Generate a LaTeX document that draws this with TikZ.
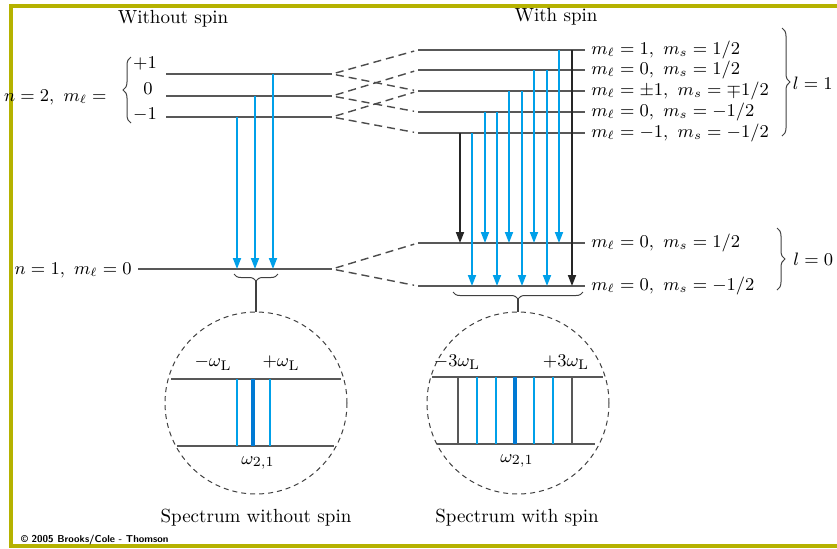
\documentclass[tikz,border=0pt]{standalone}
\usepackage{amsmath}
\usetikzlibrary{arrows.meta, positioning, decorations.pathreplacing}
\definecolor{framegold}{RGB}{181,178,0}
\definecolor{lineblue}{RGB}{0,160,233}
\definecolor{deepblue}{RGB}{0,122,212}
\definecolor{levelgray}{RGB}{88,88,88}
\tikzset{
  level/.style={draw=levelgray, line width=0.8pt},
  emit/.style={draw=lineblue, line width=0.9pt, -{Triangle[length=5.5pt,width=4pt]}},
  forbid/.style={emit, draw=black!85},
  split/.style={draw=black!70, line width=0.7pt, dash pattern=on 4pt off 2.5pt,
    shorten <=2pt, shorten >=2pt},
  lens/.style={circle, draw=black!75, line width=0.5pt, dash pattern=on 2.5pt off 2pt,
    minimum size=91pt, inner sep=0pt},
  bracket/.style={decorate, decoration={brace, amplitude=#1}, draw=black!75, line width=0.5pt},
  bracket/.default=3.5pt,
  stem/.style={draw=black!75, line width=0.6pt},
  specedge/.style={draw=levelgray, line width=0.8pt},
  specgray/.style={draw=levelgray, line width=0.6pt},
  specthin/.style={draw=lineblue, line width=0.6pt},
  specthick/.style={draw=deepblue, line width=1.7pt},
  spinlbl/.style={anchor=west, inner sep=1pt, font=\fontsize{9.2}{11}\selectfont},
  sidelbl/.style={inner sep=1pt, font=\fontsize{9}{11}\selectfont},
}

\begin{document}
\begin{tikzpicture}[x=0.5pt, y=-0.5pt, font=\fontsize{9.5}{11.5}\selectfont]
  \useasboundingbox (0,0) rectangle (837,548);

  % --- marco ---
  \draw[framegold, line width=1.6pt] (837,6) -- (11,6) -- (11,546) -- (837,546);

  % --- titulos ---
  \node (tnospin) at (173,19) {Without spin};
  \node (tspin)   at (556,17) {With spin};

  % --- niveles sin espin ---
  \coordinate (n2p-w) at (166,74);  \coordinate (n2p-e) at (332,74);
  \coordinate (n20-w) at (166,96);  \coordinate (n20-e) at (332,96);
  \coordinate (n2m-w) at (166,117); \coordinate (n2m-e) at (332,117);
  \coordinate (n1-w)  at (138,269); \coordinate (n1-e)  at (332,269);
  \foreach \lv in {n2p,n20,n2m,n1} \draw[level] (\lv-w) -- (\lv-e);

  \node[sidelbl, anchor=east] (lbln2) at (109,97) {$n = 2,\ m_\ell =$};
  \draw[bracket=4pt] (131,123) -- (131,57);
  \node (mlp) at (145,64)  {$+1$};
  \node (ml0) at (148,89)  {$0$};
  \node (mlm) at (145,115) {$-1$};
  \node[sidelbl, anchor=east] (lbln1) at (134,270) {$n = 1,\ m_\ell = 0$};

  \foreach \x/\up in {237/n2m, 255/n20, 273/n2p}
    \draw[emit] (\x,0 |- \up-w) -- (\x,0 |- n1-w);

  % --- niveles con espin ---
  \foreach \lv/\y in {s1/50, s2/70, s3/91, s4/112, s5/133, g1/243, g2/286} {
    \coordinate (\lv-w) at (418,\y); \coordinate (\lv-e) at (585,\y);
    \draw[level] (\lv-w) -- (\lv-e);
  }
  \node[spinlbl, right=2pt of s1-e] (ls1) {$m_\ell = 1,\ m_s = 1/2$};
  \node[spinlbl, right=2pt of s2-e] (ls2) {$m_\ell = 0,\ m_s = 1/2$};
  \node[spinlbl, right=2pt of s3-e] (ls3) {$m_\ell = \pm 1,\ m_s = \mp 1/2$};
  \node[spinlbl, right=2pt of s4-e] (ls4) {$m_\ell = 0,\ m_s = -1/2$};
  \node[spinlbl, right=2pt of s5-e] (ls5) {$m_\ell = -1,\ m_s = -1/2$};
  \node[spinlbl, right=2pt of g1-e] (lg1) {$m_\ell = 0,\ m_s = 1/2$};
  \node[spinlbl, right=2pt of g2-e] (lg2) {$m_\ell = 0,\ m_s = -1/2$};

  \draw[bracket=4pt] (782,28) -- (782,136);
  \node[sidelbl, anchor=east] (lone) at (835,83) {$l = 1$};
  \draw[bracket=4pt] (777,228) -- (777,290);
  \node[sidelbl, anchor=west] (lzero) at (791,259) {$l = 0$};

  % desdoblamiento
  \foreach \a/\b in {n2p/s1, n2p/s3, n20/s2, n20/s4, n2m/s3, n2m/s5, n1/g1, n1/g2}
    \draw[split] (\a-e) -- (\b-w);

  % transiciones
  \foreach \x/\a/\b/\s in {460/s5/g1/forbid, 472/s5/g2/emit, 485/s4/g1/emit,
      497/s4/g2/emit, 509/s3/g1/emit, 522/s3/g2/emit, 534/s2/g1/emit,
      547/s2/g2/emit, 559/s1/g1/emit, 572/s1/g2/forbid}
    \draw[\s] (\x,0 |- \a-w) -- (\x,0 |- \b-w);

  % --- espectros ---
  \node[lens] (cA) at (256,403) {};
  \node[lens] (cB) at (518,403) {};
  \draw[bracket] (278,274) -- (234,274);
  \coordinate (tipA) at (256,281);
  \draw[stem] (tipA) -- (cA.north);
  \draw[bracket] (583,292) -- (453,292);
  \coordinate (tipB) at (518,299);
  \draw[stem] (tipB) -- (cB.north);

  \draw[specedge] (171,379) -- (341,379);
  \draw[specedge] (177,446) -- (334,446);
  \foreach \x in {237,270} \draw[specthin] (\x,379) -- (\x,446);
  \draw[specthick] (253,379) -- (253,446);
  \node (mwA) at (213,363) {$-\omega_{\mathrm{L}}$};
  \node (pwA) at (281,363) {$+\omega_{\mathrm{L}}$};
  \node (wA)  at (258,463) {$\omega_{2,1}$};

  \draw[specedge] (432,377) -- (603,377);
  \draw[specedge] (437,444) -- (595,444);
  \foreach \x in {458,572} \draw[specgray] (\x,377) -- (\x,444);
  \foreach \x in {477,496,534,553} \draw[specthin] (\x,377) -- (\x,444);
  \draw[specthick] (515,377) -- (515,444);
  \node (mwB) at (457,362) {$-3\omega_{\mathrm{L}}$};
  \node (pwB) at (566,362) {$+3\omega_{\mathrm{L}}$};
  \node (wB)  at (517,461) {$\omega_{2,1}$};

  \node (capA) at (256,518) {Spectrum without spin};
  \node (capB) at (517,518) {Spectrum with spin};
  \node[anchor=west, font=\fontsize{5}{6}\selectfont\sffamily\bfseries] (copy)
    at (14,540) {\textcopyright\ 2005 Brooks/Cole - Thomson};

\end{tikzpicture}
\end{document}
